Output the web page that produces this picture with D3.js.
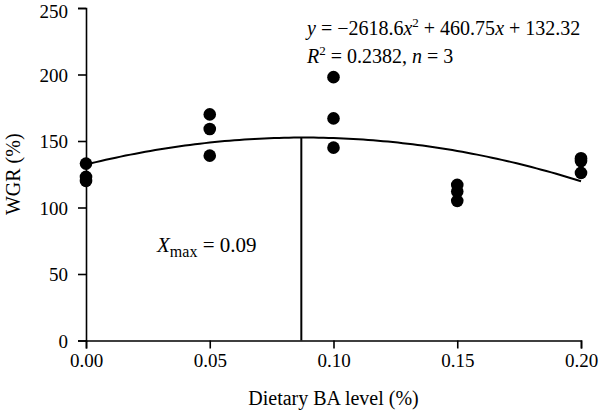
<!DOCTYPE html>
<html>
<head>
<meta charset="utf-8">
<script src="https://cdn.jsdelivr.net/npm/d3@7"></script>
<style>
  body { margin: 0; background: #fff; }
  svg text { fill: #000; }
</style>
</head>
<body>
<svg id="viz" width="600" height="415" font-family="'Liberation Serif', 'Times New Roman', Tinos, 'DejaVu Serif', 'Noto Serif', serif"></svg>
<script>
// dietary BA level (%) and the three replicate WGR values
var levels = [0.0, 0.05, 0.1, 0.15, 0.2];
var wgrRep1 = [133, 170, 198, 117, 137];
var wgrRep2 = [123, 159, 167, 112, 135];
var wgrRep3 = [120, 139, 145, 105, 126];

// quadratic fit shown on the chart
var coefA = -2618.6;
var coefB = 460.75;
var coefC = 132.32;
var xMaxValue = 0.087;

var xTicks = [0, 0.05, 0.1, 0.15, 0.2];
var yTicks = [0, 50, 100, 150, 200, 250];

var serif = "'Liberation Serif', 'Times New Roman', Tinos, 'DejaVu Serif', 'Noto Serif', serif";

var svg = d3.select("#viz");
var margin = { top: 8, left: 86, bottom: 74.5, right: 19 };
var width = +svg.attr("width") - margin.left - margin.right;
var height = +svg.attr("height") - margin.top - margin.bottom;

var x = d3.scaleLinear().domain([0, 0.2]).range([0, width]);
var y = d3.scaleLinear().domain([0, 250]).range([height, 0]);

var chart = svg
  .append("g")
  .attr("transform", "translate(" + margin.left + "," + margin.top + ")");

var points = [];
[wgrRep1, wgrRep2, wgrRep3].forEach(function (rep) {
  rep.forEach(function (v, i) {
    points.push({ level: levels[i], wgr: v });
  });
});

// x axis
var xAxis = chart
  .append("g")
  .attr("transform", "translate(0," + height + ")")
  .call(
    d3.axisBottom(x)
      .tickValues(xTicks)
      .tickFormat(d3.format(".2f"))
      .tickSizeOuter(0)
      .tickSize(8)
      .tickPadding(5)
  );

// y axis
var yAxis = chart
  .append("g")
  .call(
    d3.axisLeft(y)
      .tickValues(yTicks)
      .tickSizeOuter(0)
      .tickSize(8)
      .tickPadding(10)
  );

[xAxis, yAxis].forEach(function (ax) {
  ax.attr("font-family", serif).attr("font-size", 19);
  ax.select(".domain").attr("stroke", "#000").attr("stroke-width", 1.6);
  ax.selectAll(".tick line").attr("stroke", "#000").attr("stroke-width", 1.6);
  ax.selectAll(".tick text").attr("fill", "#000");
});
// keep the top label inside the page
yAxis.selectAll(".tick text").attr("dy", function (d) {
  return d === 250 ? "0.48em" : "0.36em";
});

// axis titles
chart
  .append("text")
  .attr("x", width / 2)
  .attr("y", height + 64)
  .attr("font-family", serif)
  .style("text-anchor", "middle")
  .style("font-size", "20px")
  .text("Dietary BA level (%)");

chart
  .append("text")
  .attr("transform", "rotate(-90)")
  .attr("x", -height / 2)
  .attr("y", -margin.left + 20)
  .attr("font-family", serif)
  .style("text-anchor", "middle")
  .style("font-size", "20px")
  .text("WGR (%)");

// fitted curve
var fit = function (v) {
  return coefA * v * v + coefB * v + coefC;
};
var curveX = d3.range(0, 0.2001, 0.002);
chart
  .append("path")
  .datum(curveX)
  .attr("fill", "none")
  .attr("stroke", "#000")
  .attr("stroke-width", 2)
  .attr("d", d3.line()
    .x(function (d) { return x(d); })
    .y(function (d) { return y(fit(d)); }));

// vertical line at Xmax
chart
  .append("line")
  .attr("x1", x(xMaxValue))
  .attr("x2", x(xMaxValue))
  .attr("y1", y(0))
  .attr("y2", y(fit(xMaxValue)))
  .attr("stroke", "#000")
  .attr("stroke-width", 2);

// data points
chart
  .selectAll(".dot")
  .data(points)
  .enter()
  .append("circle")
  .attr("class", "dot")
  .attr("cx", function (d) { return x(d.level); })
  .attr("cy", function (d) { return y(d.wgr); })
  .attr("r", 6.3)
  .attr("fill", "#000");

// equation text
var eq = svg.append("text")
  .attr("x", 307)
  .attr("y", 35)
  .attr("font-family", serif)
  .style("font-size", "20px");
eq.append("tspan").style("font-style", "italic").text("y");
eq.append("tspan").text(" = \u22122618.6");
eq.append("tspan").style("font-style", "italic").text("x");
eq.append("tspan").attr("dy", -8).style("font-size", "13px").text("2");
eq.append("tspan").attr("dy", 8).text(" + 460.75");
eq.append("tspan").style("font-style", "italic").text("x");
eq.append("tspan").text(" + 132.32");

var r2 = svg.append("text")
  .attr("x", 307)
  .attr("y", 63)
  .attr("font-family", serif)
  .style("font-size", "20px");
r2.append("tspan").style("font-style", "italic").text("R");
r2.append("tspan").attr("dy", -8).style("font-size", "13px").text("2");
r2.append("tspan").attr("dy", 8).text(" = 0.2382, ");
r2.append("tspan").style("font-style", "italic").text("n");
r2.append("tspan").text(" = 3");

var xm = svg.append("text")
  .attr("x", 157)
  .attr("y", 252)
  .attr("font-family", serif)
  .style("font-size", "21px");
xm.append("tspan").style("font-style", "italic").text("X");
xm.append("tspan").attr("dy", 5).style("font-size", "16px").text("max");
xm.append("tspan").attr("dy", -5).text(" = 0.09");
</script>
</body>
</html>
